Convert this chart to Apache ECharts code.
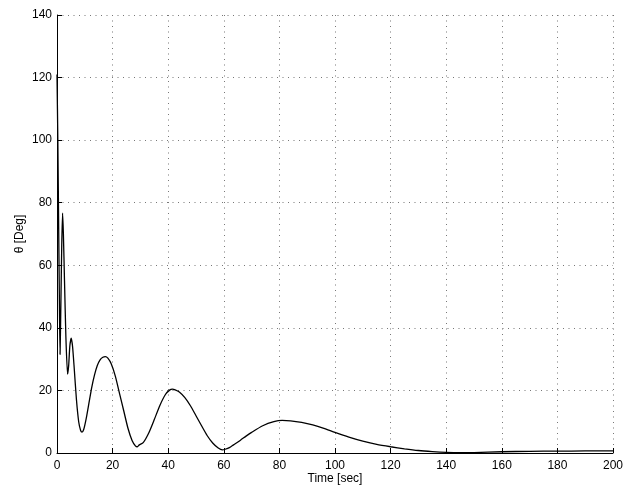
<!DOCTYPE html>
<html>
<head>
<meta charset="utf-8">
<script src="https://cdn.jsdelivr.net/npm/echarts@6/dist/echarts.min.js"></script>
<style>html,body{margin:0;padding:0;background:#fff;}#c{width:631px;height:487px;}</style>
</head>
<body>
<div id="c"></div>
<script>
var timeSec = [0, 0.3, 0.6, 0.9, 1.1, 1.4, 1.7, 2.0, 2.3, 2.7, 3.2, 3.8, 4.2, 4.6, 5.1, 5.6, 6.2, 7.0, 7.8, 8.5, 9.0, 9.6, 10.5, 11.5, 12.5, 13.5, 14.5, 15.5, 16.5, 17.4, 18.3, 19.5, 21, 22.5, 24, 25.5, 27, 28.2, 28.9, 29.6, 31, 33, 35, 37, 39, 40.5, 41.5, 42.5, 44, 46, 48, 50, 52, 54, 56, 58, 59.5, 60.5, 62, 63.5, 66, 68, 70, 74, 78, 81, 84, 88, 92, 96, 100, 105, 110, 115, 120, 125, 130, 135, 140, 145, 150, 160, 170, 180, 190, 200];
var thetaDeg = [121, 100, 72, 45, 31.5, 48, 66, 76.7, 70, 55, 37, 25.2, 28, 34, 36.7, 34, 27, 17, 10, 7.2, 6.7, 7.5, 11, 16, 21, 25, 28, 29.8, 30.6, 30.8, 30.3, 28.5, 24.5, 19, 13.5, 8, 4, 2.3, 2.0, 2.6, 3.3, 6.4, 10.7, 15.2, 18.7, 20.1, 20.4, 20.2, 19.5, 17.7, 15.1, 11.9, 8.7, 5.6, 3.2, 1.6, 1.0, 1.2, 1.7, 2.6, 4.1, 5.4, 6.6, 8.7, 10.0, 10.4, 10.3, 9.8, 9.0, 7.9, 6.6, 5.1, 3.8, 2.75, 2.0, 1.35, 0.8, 0.45, 0.2, 0.1, 0.15, 0.4, 0.55, 0.6, 0.65, 0.7];
var xTicks = [0, 20, 40, 60, 80, 100, 120, 140, 160, 180, 200];
var yTicks = [0, 20, 40, 60, 80, 100, 120, 140];

var pts = timeSec.map(function (t, i) { return [t, thetaDeg[i]]; });
var font = 'Liberation Sans, Arial, Helvetica, sans-serif';
var gridLine = { show: true, lineStyle: { color: '#777', width: 1, type: [1, 4.5] } };

var chart = echarts.init(document.getElementById('c'), null, { renderer: 'canvas' });
chart.setOption({
  animation: false,
  backgroundColor: '#fff',
  grid: { left: 57, right: 18, top: 15, bottom: 34, containLabel: false, outerBoundsMode: 'none' },
  xAxis: {
    type: 'value', min: xTicks[0], max: xTicks[xTicks.length - 1], interval: 20,
    name: 'Time [sec]', nameLocation: 'middle', nameGap: 20, nameMoveOverlap: false,
    nameTextStyle: { color: '#000', fontSize: 12, fontFamily: font },
    axisLine: { show: true, lineStyle: { color: '#000', width: 1 } },
    axisTick: { show: true, inside: true, length: 5, lineStyle: { color: '#000' } },
    axisLabel: { color: '#000', fontSize: 12, fontFamily: font, margin: 7 },
    splitLine: gridLine
  },
  yAxis: {
    type: 'value', min: yTicks[0], max: yTicks[yTicks.length - 1], interval: 20,
    name: 'θ [Deg]', nameLocation: 'middle', nameGap: 31, nameRotate: 90, nameMoveOverlap: false,
    nameTextStyle: { color: '#000', fontSize: 12, fontFamily: font },
    axisLine: { show: true, lineStyle: { color: '#000', width: 1 } },
    axisTick: { show: true, inside: true, length: 5, lineStyle: { color: '#000' } },
    axisLabel: { color: '#000', fontSize: 12, fontFamily: font, margin: 5 },
    splitLine: gridLine
  },
  series: [{
    type: 'line', data: pts, showSymbol: false, smooth: 0.2,
    lineStyle: { color: '#000', width: 1.3 }, clip: true
  }]
});
</script>
</body>
</html>
